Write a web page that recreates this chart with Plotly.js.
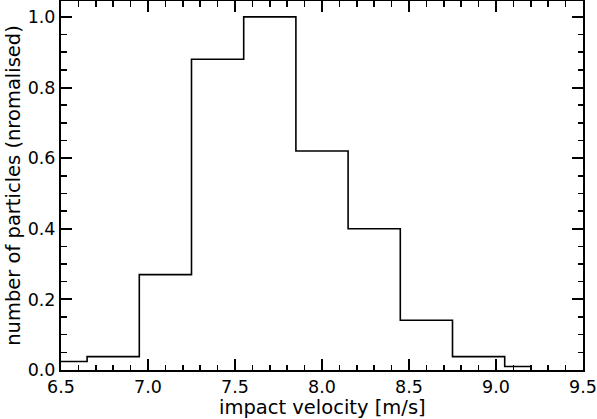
<!DOCTYPE html>
<html><head><meta charset="utf-8">
<script src="https://cdn.plot.ly/plotly-3.0.1.min.js"></script>
<style>html,body{margin:0;padding:0;background:#fff}#chart{width:597px;height:419px}</style>
</head><body><div id="chart"></div>
<script>
const velocity = [6.5, 6.8, 7.1, 7.4, 7.7, 8.0, 8.3, 8.6, 8.9, 9.2];
const counts = [0.024, 0.038, 0.270, 0.880, 1.000, 0.620, 0.400, 0.141, 0.038, 0.010];
const xTicks = [6.5, 7.0, 7.5, 8.0, 8.5, 9.0, 9.5];
const xTickLabels = ["6.5", "7.0", "7.5", "8.0", "8.5", "9.0", "9.5"];
const yTicks = [0, 0.2, 0.4, 0.6, 0.8, 1.0];
const yTickLabels = ["0.0", "0.2", "0.4", "0.6", "0.8", "1.0"];
const xTitle = "impact velocity [m/s]";
const yTitle = "number of particles (nromalised)";

const tickFont = {family: "DejaVu Sans", size: 17.5, color: "#000"};
const titleFont = {family: "DejaVu Sans", size: 19.5, color: "#000"};
const trace = {
  x: velocity, y: counts, type: "scatter", mode: "lines",
  line: {shape: "hvh", color: "#000", width: 1.6},
  hoverinfo: "skip"
};
const axisCommon = {
  showgrid: false, zeroline: false, showline: true, linecolor: "#000", linewidth: 2,
  mirror: "ticks", ticks: "inside", ticklen: 11, tickwidth: 2, tickcolor: "#000",
  tickfont: tickFont, ticklabeloverflow: "allow"
};
const layout = {
  width: 597, height: 419,
  margin: {l: 61, r: 14, t: 1, b: 49},
  paper_bgcolor: "#fff", plot_bgcolor: "#fff",
  showlegend: false,
  font: tickFont,
  xaxis: Object.assign({}, axisCommon, {
    range: [6.5, 9.5], tickmode: "array", tickvals: xTicks, ticktext: xTickLabels,
    minor: {dtick: 0.1, ticks: "inside", ticklen: 5.5, tickwidth: 1.5, tickcolor: "#000"}
  }),
  yaxis: Object.assign({}, axisCommon, {
    range: [0, 1.045], tickmode: "array", tickvals: yTicks, ticktext: yTickLabels,
    minor: {dtick: 0.05, ticks: "inside", ticklen: 5.5, tickwidth: 1.5, tickcolor: "#000"},
    title: {text: yTitle, font: titleFont, standoff: 2}
  }),
  annotations: [{
    text: xTitle, font: titleFont, showarrow: false,
    xref: "paper", yref: "paper", x: 0.5, y: 0,
    xanchor: "center", yanchor: "top", yshift: -25, borderpad: 0
  }]
};
Plotly.newPlot("chart", [trace], layout, {staticPlot: true, displayModeBar: false});
</script></body></html>
